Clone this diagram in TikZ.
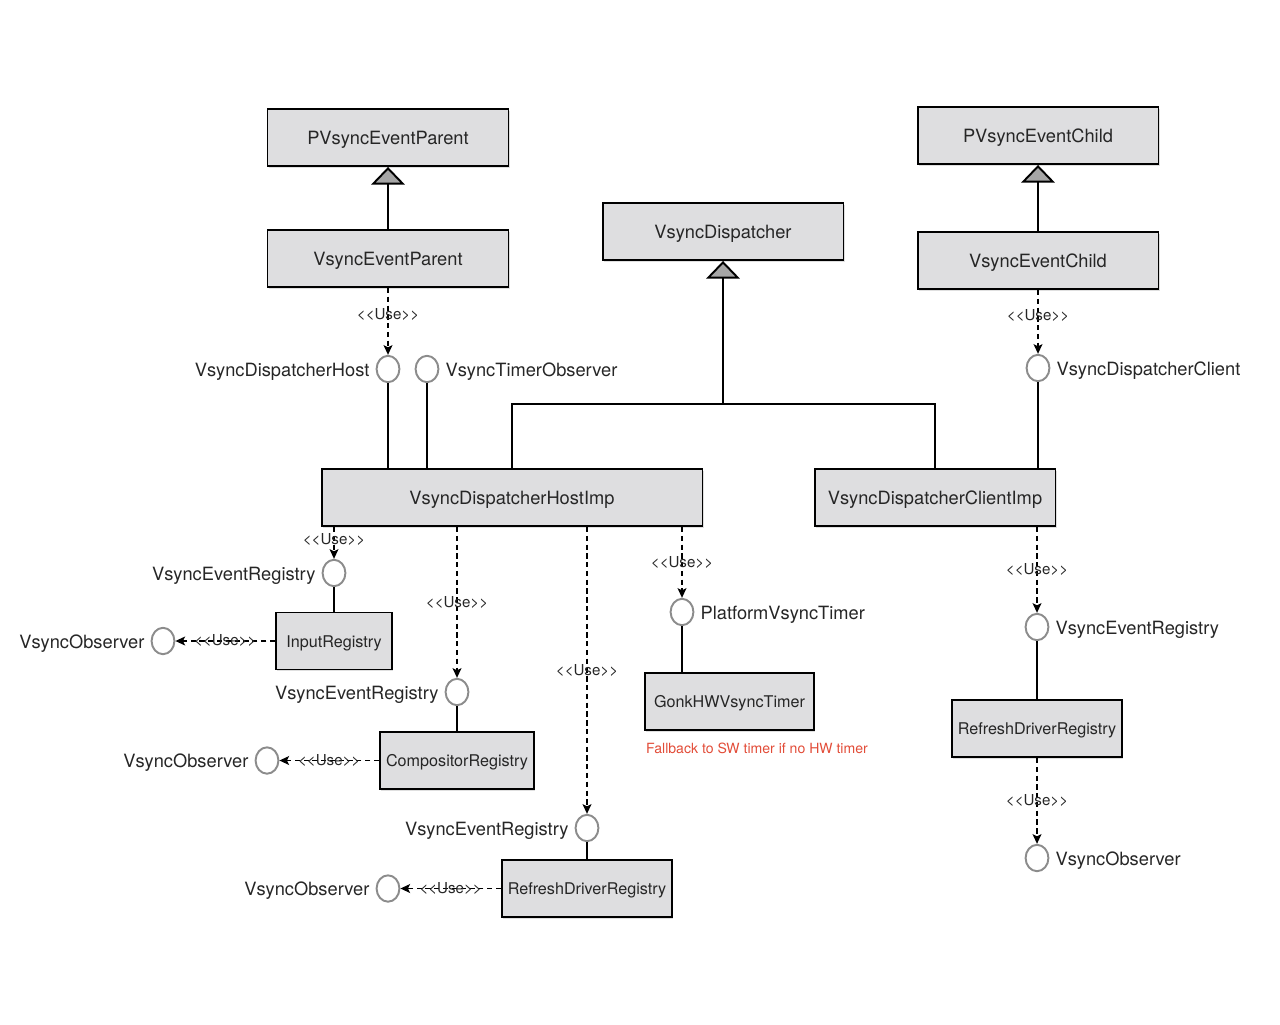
\documentclass[tikz,border=0pt]{standalone}
\usepackage{fontspec}
\setmainfont{TeX Gyre Heros}
\usetikzlibrary{arrows,arrows.meta,shapes.geometric,shadows}
\definecolor{boxgray}{RGB}{222,222,224}
\definecolor{ringgray}{RGB}{140,140,140}
\definecolor{notered}{RGB}{226,76,56}
\newcommand{\usetag}{<\kern0pt<Use>\kern0pt>}

\begin{document}
\begin{tikzpicture}[x=0.02cm,y=-0.02cm,text=black!85,
        font=\fontsize{10.4}{12}\selectfont,
        box/.style={draw=black,fill=boxgray,line width=1.1pt,minimum width=4.82cm,minimum height=1.14cm,
            text height=8pt,text depth=0pt,
            drop shadow={shadow xshift=0.7pt,shadow yshift=-0.9pt,opacity=0.25}},
        regbox/.style={box,font=\fontsize{9.2}{11}\selectfont,text height=7pt},
        iface/.style={ellipse,draw=ringgray,fill=white,line width=1.1pt,minimum width=13pt,
            minimum height=15pt,inner sep=0pt,label distance=2pt},
        every label/.style={text height=8.4pt,text depth=0pt},
        usearrow/.style={->,>={Stealth[length=5.5pt,width=5pt,inset=1.2pt]},
            dash pattern=on 3pt off 2pt,line width=1.1pt},
        uselbl/.style={font=\fontsize{8.6}{10}\selectfont,inner sep=1pt},
        inherit/.style={-{Triangle[width=19pt,length=10pt,fill=gray!70]},line width=1.1pt},
        assoc/.style={line width=1.1pt}]

    \useasboundingbox (0,0) rectangle (1280,1024);

    \node[box] (pvep) at (388,137.5) {PVsyncEventParent};
    \node[box] (vep) at (388,258.5) {VsyncEventParent};
    \node[box] (disp) at (723,231.5) {VsyncDispatcher};
    \node[box] (pvec) at (1038,135.5) {PVsyncEventChild};
    \node[box] (vec) at (1038,260.5) {VsyncEventChild};
    \node[box,minimum width=7.62cm] (hostimp) at (512,497.5) {VsyncDispatcherHostImp};
    \node[box] (clientimp) at (935,497.5) {VsyncDispatcherClientImp};

    \node[iface,label=left:VsyncDispatcherHost] (host) at (388,369) {};
    \node[iface,label=right:VsyncTimerObserver] (timerobs) at (427,369) {};
    \node[iface,label=right:VsyncDispatcherClient] (client) at (1038,368) {};

    \node[iface,label=left:VsyncEventRegistry] (inreg) at (334,573) {};
    \node[regbox,minimum width=2.32cm] (input) at (334,641) {InputRegistry};
    \node[iface,label=left:VsyncObserver] (inobs) at (163,641) {};

    \node[iface,label=left:VsyncEventRegistry] (compreg) at (457,692) {};
    \node[regbox,minimum width=3.08cm] (comp) at (457,760.5) {CompositorRegistry};
    \node[iface,label=left:VsyncObserver] (compobs) at (267,760.5) {};

    \node[iface,label=left:VsyncEventRegistry] (refreg) at (587,828) {};
    \node[regbox,minimum width=3.4cm] (refresh) at (587,888.5) {RefreshDriverRegistry};
    \node[iface,label=left:VsyncObserver] (refobs) at (388,888.5) {};

    \node[iface,label=right:PlatformVsyncTimer] (timer) at (682,612) {};
    \node[regbox,minimum width=3.38cm] (gonk) at (729.5,701.5) {GonkHWVsyncTimer};
    \node[text=notered,font=\fontsize{8}{10}\selectfont] (note) at (757,748) {Fallback to SW timer if no HW timer};

    \node[iface,label=right:VsyncEventRegistry] (clreg) at (1037,627) {};
    \node[regbox,minimum width=3.4cm] (clrefresh) at (1037,728.5) {RefreshDriverRegistry};
    \node[iface,label=right:VsyncObserver] (clobs) at (1037,858) {};

    \coordinate (merge) at (723,404);

    % generalization
    \draw[inherit] (vep) -- (pvep);
    \draw[inherit] (vec) -- (pvec);
    \draw[inherit] (hostimp.north) |- (merge) -- (disp);
    \draw[assoc] (clientimp.north) |- (merge);

    % realization
    \draw[assoc] (host) -- (host |- hostimp.north);
    \draw[assoc] (timerobs) -- (timerobs |- hostimp.north);
    \draw[assoc] (client) -- (client |- clientimp.north);
    \draw[assoc] (inreg) -- (input);
    \draw[assoc] (compreg) -- (comp);
    \draw[assoc] (refreg) -- (refresh);
    \draw[assoc] (timer) -- (timer |- gonk.north);
    \draw[assoc] (clreg) -- (clrefresh);

    % dependencies
    \path (vep) edge[usearrow] node[uselbl,pos=.4] {\usetag} (host);
    \path (vec) edge[usearrow] node[uselbl,pos=.4] {\usetag} (client);
    \path (hostimp.south -| inreg) edge[usearrow] node[uselbl,pos=.4] {\usetag} (inreg);
    \path (hostimp.south -| compreg) edge[usearrow] node[uselbl] {\usetag} (compreg);
    \path (hostimp.south -| refreg) edge[usearrow] node[uselbl] {\usetag} (refreg);
    \path (hostimp.south -| timer) edge[usearrow] node[uselbl] {\usetag} (timer);
    \path (clientimp.south -| clreg) edge[usearrow] node[uselbl] {\usetag} (clreg);
    \path (clrefresh) edge[usearrow] node[uselbl] {\usetag} (clobs);
    \path (input) edge[usearrow] node[uselbl] {\usetag} (inobs);
    \path (comp) edge[usearrow] node[uselbl] {\usetag} (compobs);
    \path (refresh) edge[usearrow] node[uselbl] {\usetag} (refobs);

\end{tikzpicture}
\end{document}
